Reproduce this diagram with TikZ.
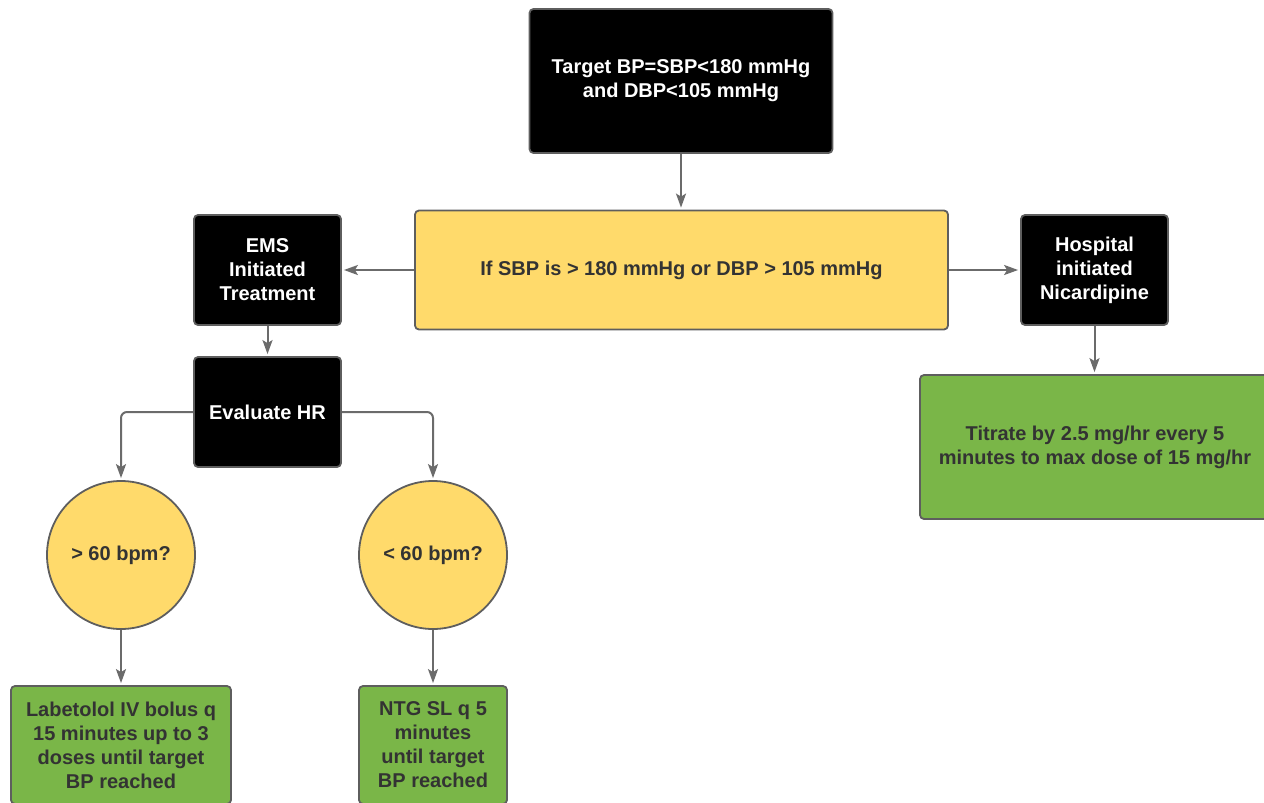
\documentclass[tikz,border=0pt]{standalone}
\usepackage{fontspec}
\setmainfont{Liberation Sans}
\usepackage{xcolor}
\usepackage{tikz}
\usetikzlibrary{arrows.meta,positioning}

\definecolor{edgegray}{HTML}{5E5E5E}
\definecolor{linegray}{HTML}{6B6B6B}
\definecolor{condyellow}{HTML}{FFDA6B}
\definecolor{stepgreen}{HTML}{7AB648}
\definecolor{textdark}{HTML}{333333}

\begin{document}
\begin{tikzpicture}[
    x=1pt, y=-1pt,
    font=\fontsize{20}{24}\selectfont\bfseries,
    box/.style={rectangle, rounded corners=4pt, draw=edgegray, line width=1.8pt, align=center, inner sep=0pt},
    darkbox/.style={box, fill=black, text=white},
    condbox/.style={box, fill=condyellow, text=textdark},
    actbox/.style={box, fill=stepgreen, text=textdark},
    check/.style={circle, draw=edgegray, line width=1.8pt, fill=condyellow, text=textdark, minimum size=148pt, inner sep=0pt},
    arrow/.style={-{Stealth[length=14pt, width=10pt, inset=3pt]}, draw=linegray, line width=2pt, shorten >=2pt}
]
    \useasboundingbox (0,0) rectangle (1264,803);
    \clip (0,0) rectangle (1264,803);

    % Target
    \node[darkbox, minimum width=303pt, minimum height=144pt] (target) at (681,81)
        {Target BP=SBP<180 mmHg\\and DBP<105 mmHg};

    % Condition
    \node[condbox, minimum width=533pt, minimum height=119pt] (cond) at (681.5,270)
        {If SBP is > 180 mmHg or DBP > 105 mmHg};

    % Treatment branches
    \node[darkbox, minimum width=147pt, minimum height=110pt] (ems) at (267.5,270)
        {EMS\\Initiated\\Treatment};
    \node[darkbox, minimum width=147pt, minimum height=110pt] (hosp) at (1094.5,270)
        {Hospital\\initiated\\Nicardipine};
    \node[darkbox, minimum width=147pt, minimum height=110pt] (evalhr) at (267.5,412)
        {Evaluate HR};

    % Heart rate checks
    \node[check] (fast) at (121,555) {> 60 bpm?};
    \node[check] (slow) at (433,555) {< 60 bpm?};

    % Actions
    \node[actbox, minimum width=350pt, minimum height=144pt] (titrate) at (1095,447)
        {Titrate by 2.5 mg/hr every 5\\minutes to max dose of 15 mg/hr};
    \node[actbox, minimum width=220pt, minimum height=118pt] (labet) at (121,745)
        {Labetolol IV bolus q\\15 minutes up to 3\\doses until target\\BP reached};
    \node[actbox, minimum width=148pt, minimum height=118pt] (ntg) at (433,745)
        {NTG SL q 5\\minutes\\until target\\BP reached};

    % Connections
    \draw[arrow] (target.south) -- (target.south |- cond.north);
    \draw[arrow] (cond) -- (ems);
    \draw[arrow] (cond) -- (hosp);
    \draw[arrow] (ems) -- (evalhr);
    \draw[arrow] (hosp.south) -- (hosp.south |- titrate.north);
    \draw[arrow, rounded corners=6pt] (evalhr.west) -| (fast.north);
    \draw[arrow, rounded corners=6pt] (evalhr.east) -| (slow.north);
    \draw[arrow] (fast) -- (labet);
    \draw[arrow] (slow) -- (ntg);
\end{tikzpicture}
\end{document}
